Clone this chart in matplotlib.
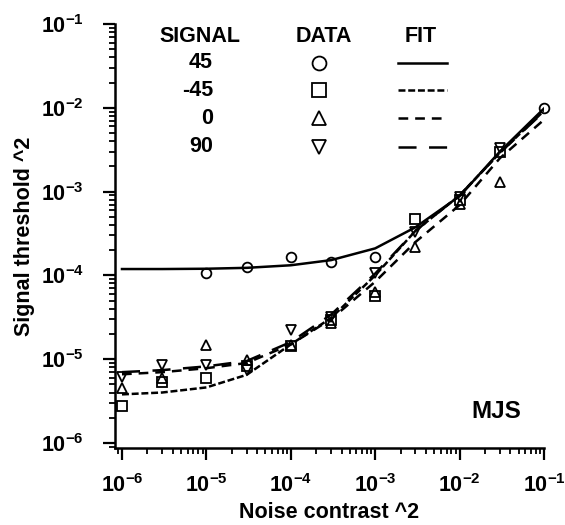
import numpy as np
import matplotlib
matplotlib.use('Agg')
import matplotlib.pyplot as plt
from matplotlib.ticker import LogLocator, FuncFormatter, NullFormatter

plt.rcParams['font.family'] = ['Liberation Sans', 'DejaVu Sans']
plt.rcParams['font.weight'] = 'bold'
plt.rcParams['mathtext.fontset'] = 'custom'
plt.rcParams['mathtext.rm'] = 'Liberation Sans:bold'
plt.rcParams['mathtext.it'] = 'Liberation Sans:bold'
plt.rcParams['mathtext.bf'] = 'Liberation Sans:bold'
plt.rcParams['lines.scale_dashes'] = False

# noise contrast^2 levels used for the fits
noise = [1e-6, 3e-6, 1e-5, 3e-5, 1e-4, 3e-4, 1e-3, 3e-3, 1e-2, 3e-2, 1e-1]

# data points, one array pair per signal orientation
x45 = [1e-5, 3e-5, 1e-4, 3e-4, 1e-3, 1e-1]
y45 = [1.06e-4, 1.27e-4, 1.67e-4, 1.46e-4, 1.67e-4, 1.0e-2]

x_m45 = [1e-6, 3e-6, 1e-5, 3e-5, 1e-4, 3e-4, 1e-3, 3e-3, 1e-2, 3e-2]
y_m45 = [2.77e-6, 5.4e-6, 5.9e-6, 8.2e-6, 1.45e-5, 2.9e-5, 5.7e-5, 4.7e-4, 8.0e-4, 3.0e-3]

x0 = [1e-6, 3e-6, 1e-5, 3e-5, 1e-4, 3e-4, 1e-3, 3e-3, 1e-2, 3e-2]
y0 = [4.5e-6, 5.9e-6, 1.48e-5, 9.8e-6, 1.48e-5, 2.7e-5, 6.4e-5, 2.2e-4, 7.2e-4, 1.3e-3]

x90 = [1e-6, 3e-6, 1e-5, 3e-5, 1e-4, 3e-4, 1e-3, 3e-3, 1e-2, 3e-2]
y90 = [6.2e-6, 8.5e-6, 8.5e-6, 7.4e-6, 2.2e-5, 3.2e-5, 1.08e-4, 3.3e-4, 8.7e-4, 3.3e-3]

# model fits evaluated at the noise levels
fit45 = [1.19e-4, 1.19e-4, 1.2e-4, 1.23e-4, 1.32e-4, 1.52e-4, 2.1e-4, 3.75e-4, 8.8e-4, 3.0e-3, 9.8e-3]
fit_m45 = [3.8e-6, 4.0e-6, 4.6e-6, 6.5e-6, 1.5e-5, 3.1e-5, 1.0e-4, 3.4e-4, 9.0e-4, 2.9e-3, 9.2e-3]
fit0 = [6.6e-6, 7.0e-6, 7.8e-6, 9.0e-6, 1.5e-5, 3.0e-5, 8.4e-5, 2.5e-4, 6.9e-4, 2.5e-3, 7.2e-3]
fit90 = [7.0e-6, 7.4e-6, 8.2e-6, 9.5e-6, 1.6e-5, 3.4e-5, 1.05e-4, 3.4e-4, 9.0e-4, 2.9e-3, 9.0e-3]

signals = ['45', '-45', '0', '90']
markers = ['o', 's', '^', 'v']
dashes = [None, (5, 2), (7, 5), (13, 9)]

fig = plt.figure(figsize=(5.65, 5.25), dpi=100)
ax = fig.add_axes([0.2035, 0.1467, 0.7593, 0.8076])

series = [(x45, y45, fit45), (x_m45, y_m45, fit_m45), (x0, y0, fit0), (x90, y90, fit90)]
for (xs, ys, fit), m, d in zip(series, markers, dashes):
    line, = ax.plot(noise, fit, color='black', lw=1.8)
    if d is not None:
        line.set_dashes(d)
    ax.plot(xs, ys, m, mfc='none', mec='black', mew=1.3, ms=7, clip_on=False)

ax.set_xscale('log')
ax.set_yscale('log')
ax.set_xlim(10 ** -6.083, 1e-1)
ax.set_ylim(10 ** -6.06, 1e-1)

fmt = FuncFormatter(lambda v, p: r'$10^{%d}$' % round(np.log10(v)))
for axis in (ax.xaxis, ax.yaxis):
    axis.set_major_locator(LogLocator(base=10, numticks=10))
    axis.set_minor_locator(LogLocator(base=10, subs=np.arange(2, 10), numticks=10))
    axis.set_major_formatter(fmt)
    axis.set_minor_formatter(NullFormatter())

ax.spines['top'].set_visible(False)
ax.spines['right'].set_visible(False)
for s in ('left', 'bottom'):
    ax.spines[s].set_linewidth(1.8)
ax.tick_params(which='major', length=8.5, width=1.6, labelsize=15.5)
ax.tick_params(axis='x', which='major', pad=10)
ax.tick_params(axis='y', which='major', pad=14)
ax.tick_params(which='minor', length=4.3, width=1.3)

ax.set_xlabel('Noise contrast ^2', fontsize=15.5, fontweight='bold', labelpad=4)
ax.set_ylabel('Signal threshold ^2', fontsize=15.5, fontweight='bold', labelpad=4)

# hand-made legend table
head_y = 1 - 37 / 525
fig.text(0.354, head_y, 'SIGNAL', ha='center', va='center', fontsize=15.5, fontweight='bold')
fig.text(0.573, head_y, 'DATA', ha='center', va='center', fontsize=15.5, fontweight='bold')
fig.text(0.745, head_y, 'FIT', ha='center', va='center', fontsize=15.5, fontweight='bold')
rows_y = [63, 90, 118, 147]
for lab, m, d, ry in zip(signals, markers, dashes, rows_y):
    yf = 1 - ry / 525
    fig.text(0.377, yf, lab, ha='right', va='center', fontsize=15.5, fontweight='bold')
    fig.add_artist(plt.Line2D([0.565], [yf], marker=m, mfc='none', mec='black',
                              mew=1.3, ms=10, transform=fig.transFigure))
    ln = plt.Line2D([0.704, 0.791], [yf, yf], color='black', lw=1.8,
                    transform=fig.transFigure)
    if d is not None:
        ln.set_dashes(d)
    fig.add_artist(ln)

ax.text(0.888, 0.085, 'MJS', transform=ax.transAxes, ha='center', va='center',
        fontsize=17.5, fontweight='bold')

fig.savefig('out.png', dpi=100)
